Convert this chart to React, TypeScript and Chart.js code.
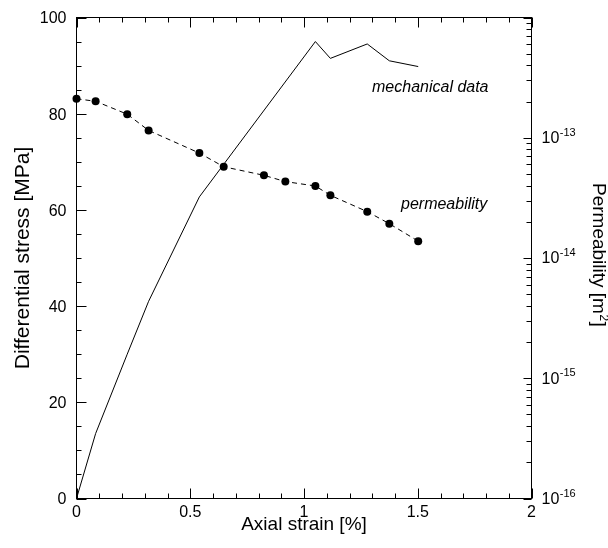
import React, { useEffect, useRef } from "react";
import { Chart, registerables } from "chart.js";

Chart.register(...registerables);

// Mechanical data (differential stress vs axial strain)
const mechStrain = [0, 0.084, 0.223, 0.317, 0.54, 1.05, 1.116, 1.278, 1.375, 1.502];
const mechStress = [0, 13.5, 30, 41, 62.7, 95.0, 91.5, 94.5, 91.0, 89.8];

// Permeability measurements
const permStrain = [0, 0.084, 0.223, 0.317, 0.54, 0.647, 0.824, 0.918, 1.05, 1.116, 1.278, 1.375, 1.502];
const permValues = [2.11e-13, 2.01e-13, 1.57e-13, 1.15e-13, 7.46e-14, 5.74e-14, 4.87e-14, 4.32e-14, 3.97e-14, 3.32e-14, 2.43e-14, 1.93e-14, 1.38e-14];

// Tick labels
const xTickLabels = ["0", "0.5", "1", "1.5", "2"];
const xTickValues = [0, 0.5, 1, 1.5, 2];
const yTickValues = [0, 20, 40, 60, 80, 100];
const y2Exponents = [-16, -15, -14, -13];

const FONT = "'Liberation Sans', Arial, sans-serif";

const framePlugin = {
  id: "framePlugin",
  afterDraw(chart: any) {
    const { ctx, chartArea } = chart;
    const { left, right, top, bottom } = chartArea;
    const sx = chart.scales.x;
    const sy = chart.scales.y;
    const sy2 = chart.scales.y2;
    ctx.save();
    ctx.strokeStyle = "#000";
    ctx.lineWidth = 1;
    ctx.setLineDash([]);
    ctx.strokeRect(left, top, right - left, bottom - top);

    ctx.beginPath();
    // x ticks (bottom & top)
    for (let i = 0; i <= 20; i++) {
      const px = Math.round(sx.getPixelForValue(i / 10)) + 0.5;
      const len = i % 5 === 0 ? 10 : 5;
      ctx.moveTo(px, bottom);
      ctx.lineTo(px, bottom - len);
      ctx.moveTo(px, top);
      ctx.lineTo(px, top + len);
    }
    // left y ticks
    for (let i = 0; i <= 20; i++) {
      const py = Math.round(sy.getPixelForValue(i * 5)) + 0.5;
      const len = i % 4 === 0 ? 10 : 5;
      ctx.moveTo(left, py);
      ctx.lineTo(left + len, py);
    }
    // right log ticks
    for (let d = -16; d <= -12; d++) {
      for (let m = 1; m <= 9; m++) {
        if (d === -12 && m > 1) break;
        const py = Math.round(sy2.getPixelForValue(m * Math.pow(10, d))) + 0.5;
        const len = m === 1 ? 8 : 5;
        ctx.moveTo(right, py);
        ctx.lineTo(right - len, py);
      }
    }
    ctx.stroke();

    ctx.fillStyle = "#000";
    // left tick labels
    ctx.font = `16px ${FONT}`;
    ctx.textAlign = "right";
    ctx.textBaseline = "middle";
    yTickValues.forEach((v) => {
      ctx.fillText(String(v), left - 10, sy.getPixelForValue(v) + 1.5);
    });
    // bottom tick labels
    ctx.textAlign = "center";
    xTickValues.forEach((v, i) => {
      ctx.fillText(xTickLabels[i], sx.getPixelForValue(v), 513);
    });
    // right tick labels
    ctx.textAlign = "left";
    y2Exponents.forEach((e) => {
      const py = sy2.getPixelForValue(Math.pow(10, e));
      ctx.font = `16px ${FONT}`;
      ctx.textBaseline = "middle";
      ctx.fillText("10", right + 10, py + 1);
      const w = ctx.measureText("10").width;
      ctx.font = `11px ${FONT}`;
      ctx.fillText(String(e), right + 10 + w + 0.5, py - 5);
    });

    // axis titles
    ctx.font = `19px ${FONT}`;
    ctx.textAlign = "center";
    ctx.textBaseline = "middle";
    ctx.fillText("Axial strain [%]", (left + right) / 2, 525);

    ctx.save();
    ctx.font = `21px ${FONT}`;
    ctx.translate(29, (top + bottom) / 2);
    ctx.rotate(-Math.PI / 2);
    ctx.textBaseline = "alphabetic";
    ctx.fillText("Differential stress [MPa]", 0, 0);
    ctx.restore();

    ctx.save();
    ctx.translate(593, 183);
    ctx.rotate(Math.PI / 2);
    ctx.textAlign = "left";
    ctx.textBaseline = "alphabetic";
    ctx.font = `19px ${FONT}`;
    const t1 = "Permeability [m";
    ctx.fillText(t1, 0, 0);
    const w1 = ctx.measureText(t1).width;
    ctx.font = `12px ${FONT}`;
    ctx.fillText("2", w1 + 0.5, -7);
    const w2 = ctx.measureText("2").width;
    ctx.font = `19px ${FONT}`;
    ctx.fillText("]", w1 + w2 + 1, 0);
    ctx.restore();

    // annotations
    ctx.font = `italic 16px ${FONT}`;
    ctx.textAlign = "left";
    ctx.textBaseline = "alphabetic";
    ctx.fillText("mechanical data", 372, 92);
    ctx.fillText("permeability", 401, 209);

    ctx.restore();
  },
};

export default function App() {
  const canvasRef = useRef<HTMLCanvasElement | null>(null);

  useEffect(() => {
    const canvas = canvasRef.current;
    if (!canvas) return;
    const chart = new Chart(canvas, {
      type: "scatter",
      data: {
        datasets: [
          {
            label: "mechanical data",
            data: mechStrain.map((s, i) => ({ x: s, y: mechStress[i] })),
            yAxisID: "y",
            showLine: true,
            borderColor: "#000",
            borderWidth: 1,
            pointRadius: 0,
            fill: false,
            tension: 0,
            clip: false as any,
          },
          {
            label: "permeability",
            data: permStrain.map((s, i) => ({ x: s, y: permValues[i] })),
            yAxisID: "y2",
            showLine: true,
            borderColor: "#000",
            borderWidth: 1,
            borderDash: [5, 4],
            pointRadius: 4,
            pointBackgroundColor: "#000",
            pointBorderColor: "#000",
            pointBorderWidth: 0,
            fill: false,
            tension: 0,
            clip: false as any,
          },
        ],
      },
      options: {
        animation: false,
        responsive: false,
        devicePixelRatio: 1,
        layout: { padding: { left: 76.5, right: 76.5, top: 17.5, bottom: 49.5 } },
        plugins: { legend: { display: false }, tooltip: { enabled: false } },
        events: [],
        scales: {
          x: { type: "linear", min: 0, max: 2, display: false },
          y: { type: "linear", min: 0, max: 100, display: false },
          y2: { type: "logarithmic", min: 1e-16, max: 1e-12, display: false },
        },
      },
      plugins: [framePlugin],
    });
    return () => chart.destroy();
  }, []);

  return (
    <div style={{ position: "absolute", left: 0, top: 0, width: 608, height: 548, background: "#fff" }}>
      <canvas ref={canvasRef} width={608} height={548} style={{ display: "block" }} />
    </div>
  );
}
